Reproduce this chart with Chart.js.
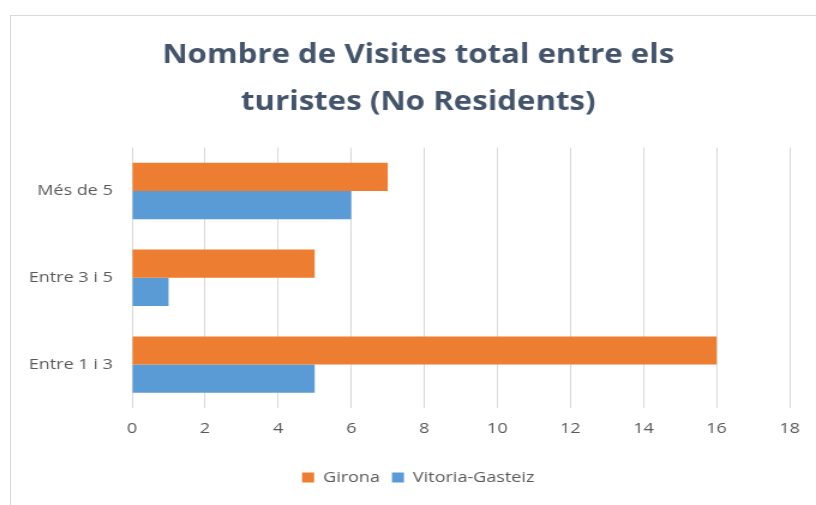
<!DOCTYPE html>
<html>
<head>
<meta charset="utf-8">
<script src="https://cdn.jsdelivr.net/npm/chart.js@4/dist/chart.umd.min.js"></script>
<style>
  html, body { margin: 0; padding: 0; background: #fff; overflow: hidden; }
  #wrap { position: relative; width: 816px; height: 505px; }
  #frame { position: absolute; left: 10px; top: 15px; right: -2px; bottom: -2px;
           border-left: 1px solid #d9d9d9; border-top: 1px solid #d9d9d9; }
  /* the chart is laid out on a narrower canvas and widened to fill the frame */
  #visites { position: absolute; left: 0; top: 0; transform: scaleX(1.2); transform-origin: 0 0; }
</style>
</head>
<body>
<div id="wrap">
  <div id="frame"></div>
  <canvas id="visites" width="680" height="505"></canvas>
</div>
<script>
const categories = ['Més de 5', 'Entre 3 i 5', 'Entre 1 i 3'];
const girona = [7, 5, 16];
const vitoria = [6, 1, 5];
const xTicks = [0, 2, 4, 6, 8, 10, 12, 14, 16, 18];

const labelFont = { family: 'Open Sans', size: 15 };

// category labels are wider than the y axis box; let them spill into the left padding
const labelRoom = {
    id: 'labelRoom',
    afterLayout(chart) {
        chart.scales.y.left = 0;
    }
};

const ctx = document.getElementById('visites');
const visitesChart = new Chart(ctx, {
    type: 'bar',
    data: {
        labels: categories,
        datasets: [{
            label: 'Girona',
            data: girona,
            backgroundColor: '#ED7D31',
            barPercentage: 1.0,
            categoryPercentage: 0.65
        }, {
            label: 'Vitoria-Gasteiz',
            data: vitoria,
            backgroundColor: '#5B9BD5',
            barPercentage: 1.0,
            categoryPercentage: 0.65
        }]
    },
    options: {
        indexAxis: 'y',
        responsive: false,
        animation: false,
        layout: {
            padding: { left: 39, right: 22, top: 15, bottom: 10 }
        },
        scales: {
            x: {
                min: 0,
                max: 18,
                afterBuildTicks: scale => { scale.ticks = xTicks.map(v => ({ value: v })); },
                afterFit: scale => { scale.height = 52; },
                grid: { color: '#d9d9d9', drawTicks: false },
                border: { display: false },
                ticks: { color: '#595959', font: labelFont, padding: 12 }
            },
            y: {
                afterFit: scale => { scale.width = 71; },
                grid: { display: false, drawTicks: false },
                border: { display: false },
                ticks: { color: '#595959', font: labelFont, padding: 16 }
            }
        },
        plugins: {
            title: {
                display: true,
                text: ['Nombre de Visites total entre els', 'turistes (No Residents)'],
                color: '#44546A',
                font: { family: 'Open Sans', size: 26, weight: 'bold', lineHeight: 1.8 },
                padding: { top: 17, bottom: 22 }
            },
            legend: {
                position: 'bottom',
                labels: {
                    color: '#595959',
                    font: { family: 'Open Sans', size: 15 },
                    boxWidth: 10,
                    boxHeight: 10,
                    padding: 10
                }
            },
            tooltip: { enabled: false }
        }
    },
    plugins: [labelRoom]
});
</script>
</body>
</html>
